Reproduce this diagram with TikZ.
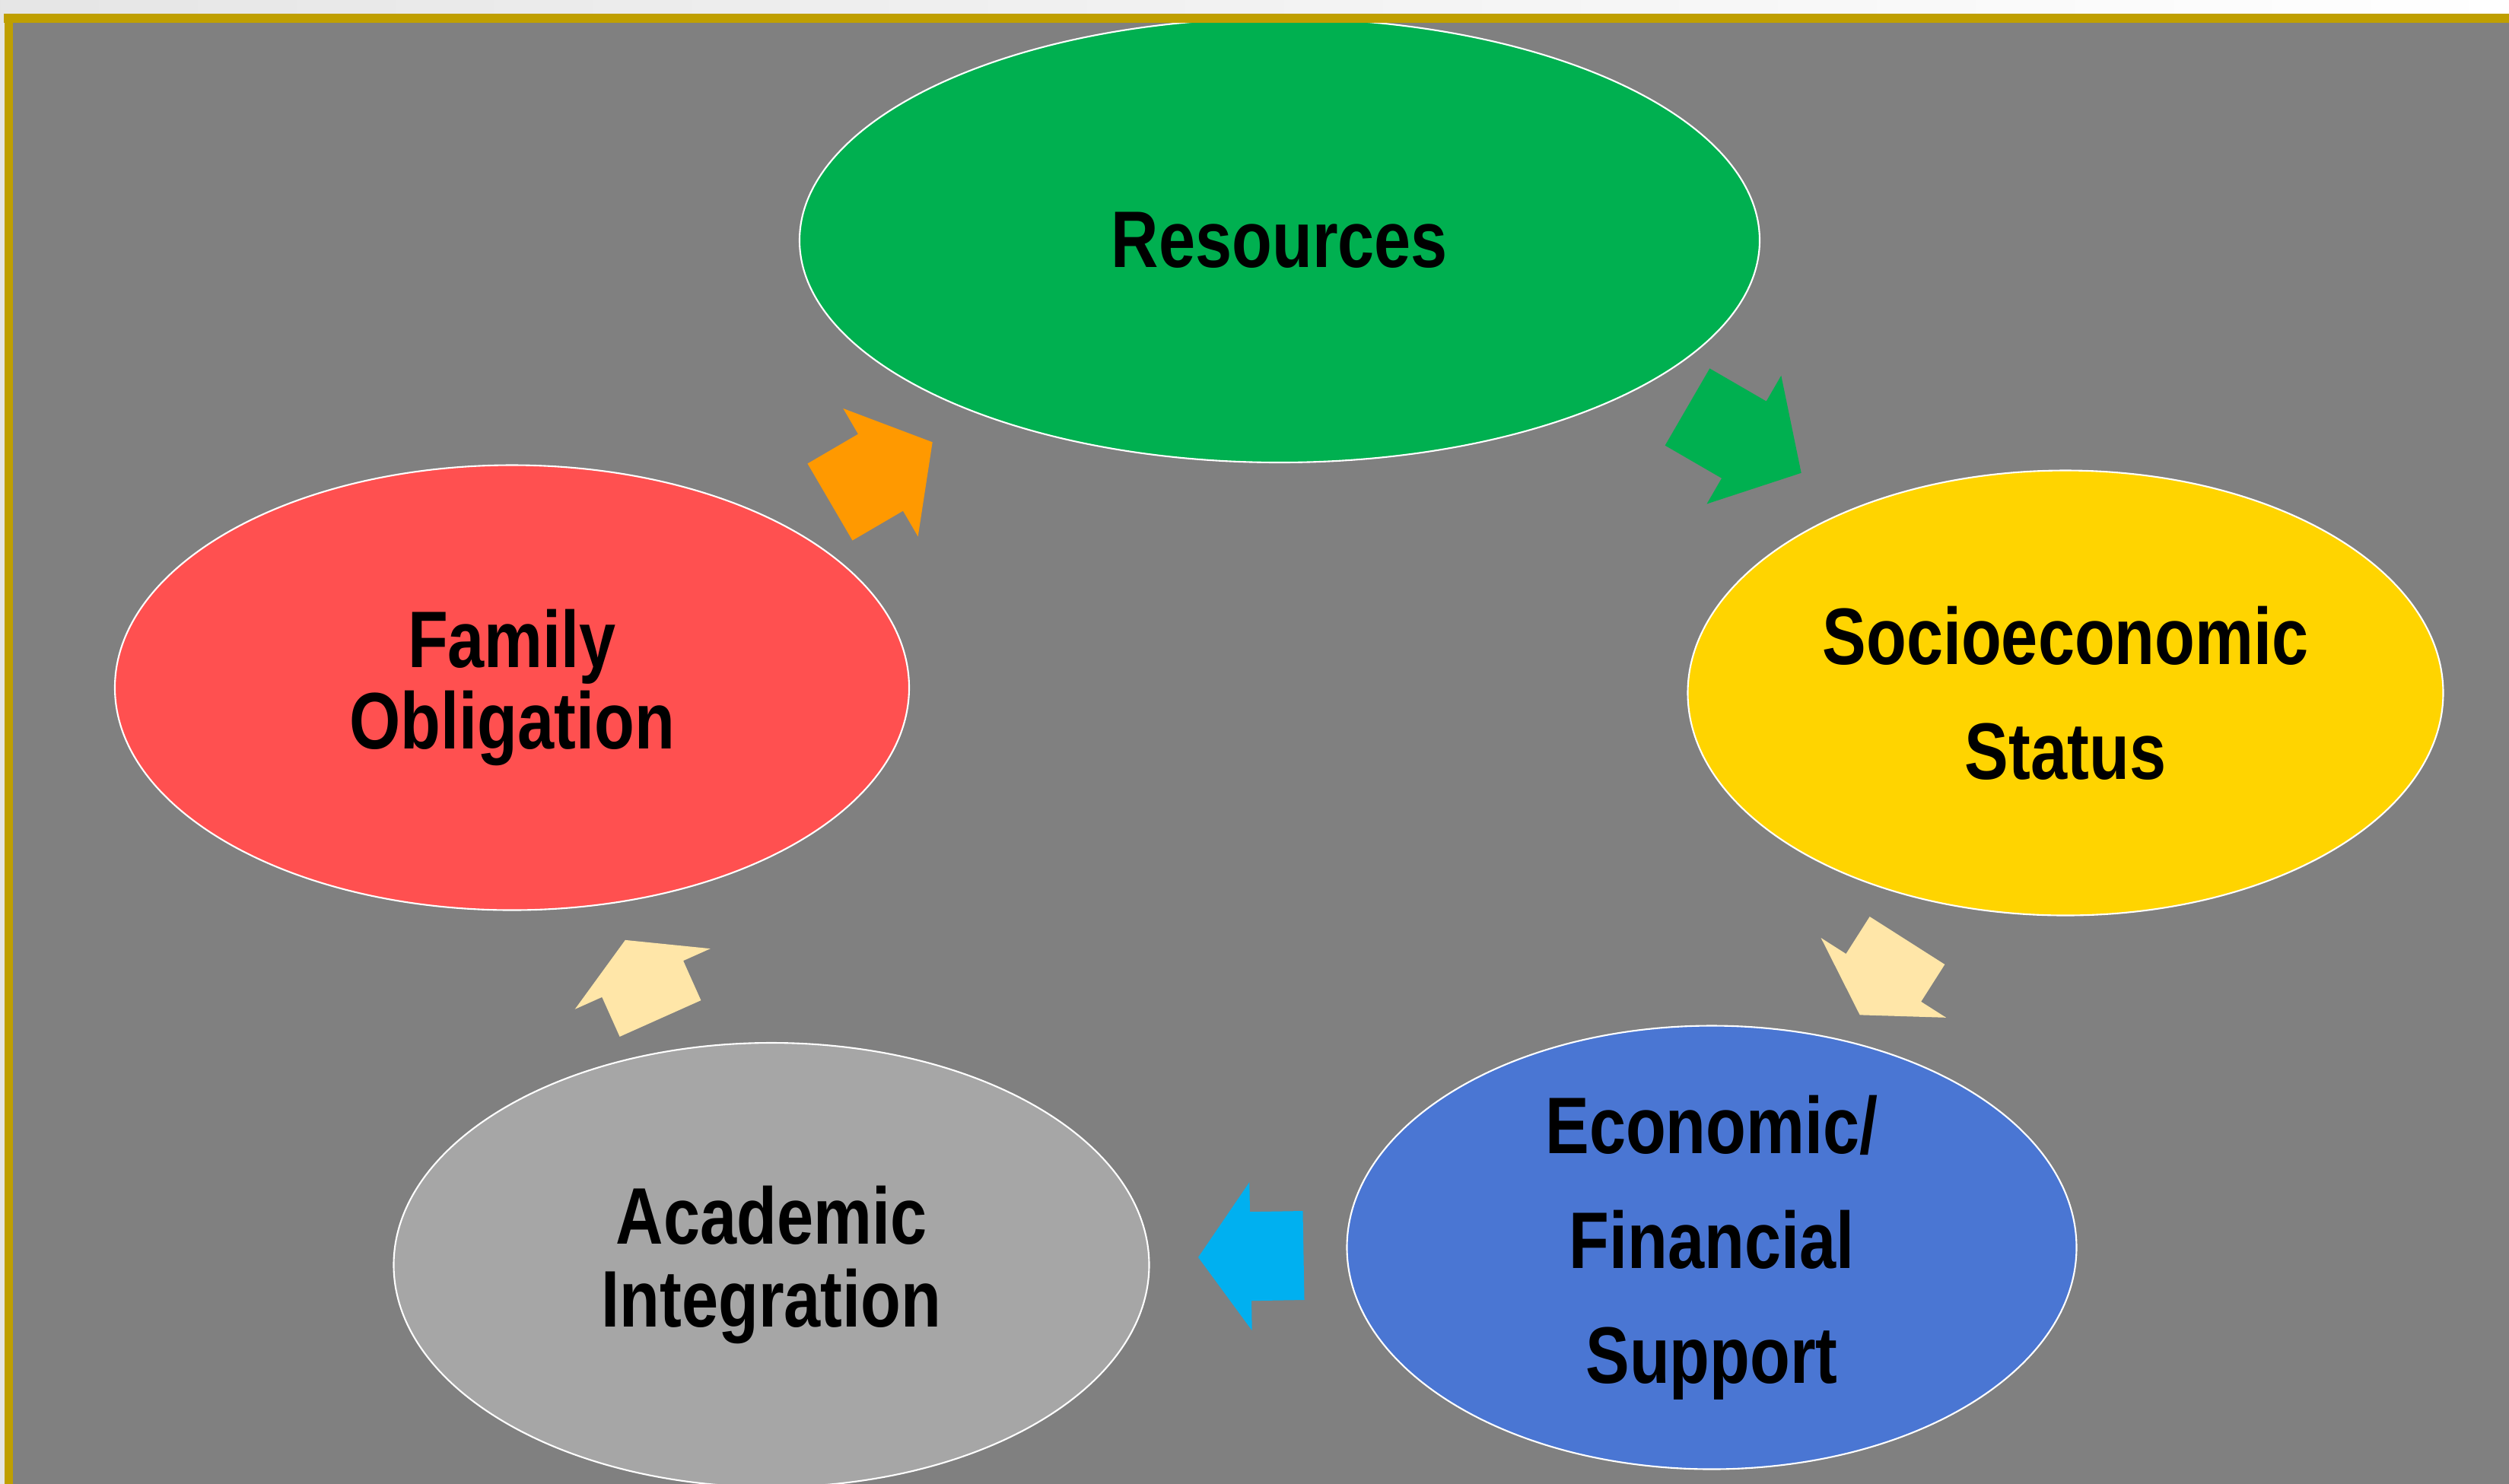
\documentclass[tikz,border=0pt]{standalone}
\usepackage{fontspec}
\newfontfamily\labelfont{Liberation Sans}[FakeStretch=0.82]
\usetikzlibrary{shapes.geometric}

\definecolor{bggray}{HTML}{808080}
\definecolor{gold}{HTML}{BF9F00}
\definecolor{resgreen}{HTML}{00B050}
\definecolor{sesyellow}{HTML}{FFD400}
\definecolor{finblue}{HTML}{4A76D3}
\definecolor{acadgray}{HTML}{A6A6A6}
\definecolor{famred}{HTML}{FF5050}
\definecolor{arrorange}{HTML}{FF9900}
\definecolor{arrpale}{HTML}{FFE6A8}
\definecolor{arrcyan}{HTML}{00B0F0}

% block arrow: colour, tail middle, angle, length, head length
\newcommand{\blockarrow}[5]{%
  \fill[#1, shift={(#2)}, rotate=#3] (0,-0.585) -- ({#4-#5},-0.585) -- ({#4-#5},-0.975)
    -- (#4,0) -- ({#4-#5},0.975) -- ({#4-#5},0.585) -- (0,0.585) -- cycle;}

\begin{document}
\begin{tikzpicture}[
  stage/.style={ellipse, draw=white, line width=0.6pt, inner sep=0pt, align=center,
    font=\labelfont\bfseries\fontsize{30}{43}\selectfont}]

  % page
  \useasboundingbox (0,0) rectangle (32.98,-19.50);
  \shade[left color=gray!20, right color=white] (0,0) rectangle (33.1,-0.20);
  \fill[bggray] (0.17,-0.30) rectangle (33.1,-19.6);
  \fill[gray!20] (-0.1,-0.20) rectangle (0.06,-19.6);

  % stages of the cycle
  \node[stage, fill=resgreen, minimum width=12.62cm, minimum height=5.84cm] (res) at (16.82,-3.16) {Resources};
  \node[stage, fill=sesyellow, minimum width=9.93cm, minimum height=5.85cm] (ses) at (27.15,-9.11) {Socioeconomic\\Status};
  \node[stage, fill=finblue, minimum width=9.59cm, minimum height=5.83cm] (fin) at (22.50,-16.40) {Economic/\\Financial\\Support};
  \node[stage, fill=acadgray, minimum width=9.93cm, minimum height=5.84cm,
    font=\labelfont\bfseries\fontsize{30}{31}\selectfont] (acad) at (10.14,-16.63) {Academic\\Integration};
  \node[stage, fill=famred, minimum width=10.44cm, minimum height=5.85cm,
    font=\labelfont\bfseries\fontsize{30}{30.5}\selectfont] (fam) at (6.73,-9.04) {Family\\Obligation};

  % gold frame
  \fill[gold] (0.05,-0.18) rectangle (33.1,-0.30);
  \fill[gold] (0.06,-0.20) rectangle (0.17,-19.6);

  % arrows
  \blockarrow{resgreen}{22.18,-5.35}{-30.1}{1.73}{0.87}
  \blockarrow{arrpale}{25.07,-12.365}{-122.5}{1.16}{0.58}
  \blockarrow{arrcyan}{17.135,-16.505}{-179}{1.385}{0.69}
  \blockarrow{arrpale}{8.68,-13.39}{114.1}{1.13}{0.56}
  \blockarrow{arrorange}{10.91,-6.60}{30.3}{1.56}{0.79}
\end{tikzpicture}
\end{document}
